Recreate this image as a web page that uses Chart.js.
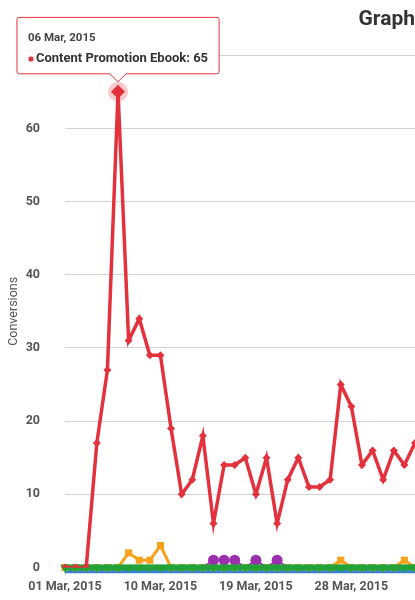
<!DOCTYPE html>
<html>
<head>
<meta charset="utf-8">
<script src="https://cdn.jsdelivr.net/npm/chart.js@4/dist/chart.umd.min.js"></script>
<style>
  html, body { margin: 0; padding: 0; background: #fff; overflow: hidden; }
  #wrap { width: 415px; height: 600px; }
</style>
</head>
<body>
<div id="wrap"><canvas id="graph" width="415" height="600"></canvas></div>
<script>
  // daily categories
  const dates = [
    "01 Mar, 2015", "02 Mar, 2015", "03 Mar, 2015", "04 Mar, 2015", "05 Mar, 2015", "06 Mar, 2015",
    "07 Mar, 2015", "08 Mar, 2015", "09 Mar, 2015", "10 Mar, 2015", "11 Mar, 2015", "12 Mar, 2015",
    "13 Mar, 2015", "14 Mar, 2015", "15 Mar, 2015", "16 Mar, 2015", "17 Mar, 2015", "18 Mar, 2015",
    "19 Mar, 2015", "20 Mar, 2015", "21 Mar, 2015", "22 Mar, 2015", "23 Mar, 2015", "24 Mar, 2015",
    "25 Mar, 2015", "26 Mar, 2015", "27 Mar, 2015", "28 Mar, 2015", "29 Mar, 2015", "30 Mar, 2015",
    "31 Mar, 2015", "01 Apr, 2015", "02 Apr, 2015", "03 Apr, 2015"
  ];

  // series values
  const ebook =      [0, 0, 0, 17, 27, 65, 31, 34, 29, 29, 19, 10, 12, 18, 6, 14, 14, 15, 10, 15, 6, 12, 15, 11, 11, 12, 25, 22, 14, 16, 12, 16, 14, 17];
  const webinar =    [0, 0, 0, 0, 0, 0, 2, 1, 1, 3, 0, 0, 0, 0, 0, 0, 0, 0, 0, 0, 0, 0, 0, 0, 0, 0, 1, 0, 0, 0, 0, 0, 1, 0];
  const newsletter = [0, 0, 0, 0, 0, 0, 0, 0, 0, 0, 0, 0, 0, 0, 1, 1, 1, 0, 1, 0, 1, 0, 0, 0, 0, 0, 0, 0, 0, 0, 0, 0, 0, 0];
  const freeTrial =  [0, 0, 0, 0, 0, 0, 0, 0, 0, 0, 0, 0, 0, 0, 0, 0, 0, 0, 0, 0, 0, 0, 0, 0, 0, 0, 0, 0, 0, 0, 0, 0, 0, 0];
  const demo =       [0, 0, 0, 0, 0, 0, 0, 0, 0, 0, 0, 0, 0, 0, 0, 0, 0, 0, 0, 0, 0, 0, 0, 0, 0, 0, 0, 0, 0, 0, 0, 0, 0, 0];

  const yTicks = [0, 10, 20, 30, 40, 50, 60, 70];

  const FONT = "Roboto, sans-serif";
  const RED = "#e3323d";

  // pink halo behind the hovered point
  const halo = {
    id: "halo",
    beforeDatasetsDraw(chart) {
      const ctx = chart.ctx;
      chart.getActiveElements().forEach(a => {
        ctx.save();
        ctx.beginPath();
        ctx.arc(a.element.x, a.element.y, 10, 0, Math.PI * 2);
        ctx.fillStyle = "rgba(227, 50, 61, 0.25)";
        ctx.fill();
        ctx.restore();
      });
    }
  };

  // hide markers that sit on the zero line
  const onlyNonZero = r => ctx => (ctx.raw > 0 ? r : 0);

  const chart = new Chart(document.getElementById("graph"), {
    type: "line",
    data: {
      labels: dates,
      datasets: [
        {
          label: "Content Promotion Ebook",
          data: ebook,
          borderColor: RED,
          backgroundColor: RED,
          borderWidth: 3.5,
          pointStyle: "rectRot",
          pointRadius: 4,
          pointBorderWidth: 0,
          pointHoverRadius: 7,
          pointHoverBorderWidth: 0,
          pointHoverBackgroundColor: RED,
          order: 0
        },
        {
          label: "Free Trial",
          data: freeTrial,
          borderColor: "#21a33a",
          backgroundColor: "#21a33a",
          borderWidth: 6,
          pointStyle: "triangle",
          rotation: 180,
          pointRadius: 5.5,
          pointBorderWidth: 0,
          clip: false,
          order: 1
        },
        {
          label: "Newsletter Signup",
          data: newsletter,
          borderColor: "#9c2fae",
          backgroundColor: "#9c2fae",
          borderWidth: 2,
          pointStyle: "circle",
          pointRadius: onlyNonZero(5.5),
          pointBorderWidth: 0,
          order: 2
        },
        {
          label: "Webinar Registration",
          data: webinar,
          borderColor: "#f7a21d",
          backgroundColor: "#f7a21d",
          borderWidth: 3,
          pointStyle: "rect",
          pointRadius: 5,
          pointBorderWidth: 0,
          clip: false,
          order: 3
        },
        {
          label: "Demo Request",
          data: demo,
          yAxisID: "yBase",
          borderColor: "#3b80d6",
          backgroundColor: "#3b80d6",
          borderWidth: 5,
          pointRadius: 0,
          clip: false,
          order: 4
        }
      ]
    },
    options: {
      responsive: false,
      animation: false,
      events: [],
      layout: { autoPadding: false, padding: { left: 6, right: 0, top: 0, bottom: 0 } },
      scales: {
        x: {
          offset: false,
          afterFit: axis => { axis.paddingLeft = 0; axis.paddingRight = 0; axis.height = 29; },
          grid: {
            drawOnChartArea: false,
            drawTicks: true,
            tickLength: 8,
            color: ctx => (ctx.index % 9 === 0 ? "#b9cbe0" : "rgba(0,0,0,0)")
          },
          border: { display: false },
          ticks: {
            autoSkip: false,
            maxRotation: 0,
            padding: 4,
            color: "#555",
            font: { family: FONT, size: 12.5, weight: "bold" },
            callback: (v, i) => (i % 9 === 0 ? dates[i] : null)
          }
        },
        y: {
          min: yTicks[0],
          max: yTicks[yTicks.length - 1],
          afterBuildTicks: axis => { axis.ticks = yTicks.map(v => ({ value: v })); },
          afterFit: axis => { axis.width = 59; },
          grid: { color: "#d3d3d3", lineWidth: 1, drawTicks: false },
          border: { display: false },
          ticks: {
            padding: 25,
            color: "#555",
            font: { family: FONT, size: 12.5, weight: "bold" }
          },
          title: {
            display: true,
            text: "Conversions",
            color: "#555",
            font: { family: FONT, size: 12.5 },
            padding: { top: 0, bottom: 4 }
          }
        },
        // same range, nudged a few pixels down so the base series sits under the green one
        yBase: {
          display: false,
          min: yTicks[0] + 0.45,
          max: yTicks[yTicks.length - 1] + 0.45
        }
      },
      plugins: {
        legend: { display: false },
        title: {
          display: true,
          text: "Graph",
          align: "end",
          color: "#333",
          font: { family: FONT, size: 21, weight: "bold" },
          padding: { top: 7, bottom: 23 }
        },
        tooltip: {
          enabled: true,
          backgroundColor: "rgba(255,255,255,0.96)",
          borderColor: RED,
          borderWidth: 1,
          cornerRadius: 2,
          padding: { left: 11, right: 11, top: 14, bottom: 7 },
          caretSize: 8,
          caretPadding: 10,
          xAlign: "center",
          yAlign: "bottom",
          titleColor: "#444",
          titleFont: { family: FONT, size: 11.5, weight: "bold" },
          titleMarginBottom: 6,
          bodyColor: "#333",
          bodyFont: { family: FONT, size: 13, weight: "bold" },
          usePointStyle: true,
          boxWidth: 6,
          boxHeight: 6,
          callbacks: {
            labelPointStyle: () => ({ pointStyle: "circle", rotation: 0 }),
            labelColor: () => ({ borderColor: "#ddd", backgroundColor: RED, borderWidth: 0 })
          }
        }
      }
    },
    plugins: [halo]
  });

  const active = [{ datasetIndex: 0, index: 5 }];
  chart.setActiveElements(active);
  chart.tooltip.setActiveElements(active, { x: 0, y: 0 });
  chart.update();
</script>
</body>
</html>
